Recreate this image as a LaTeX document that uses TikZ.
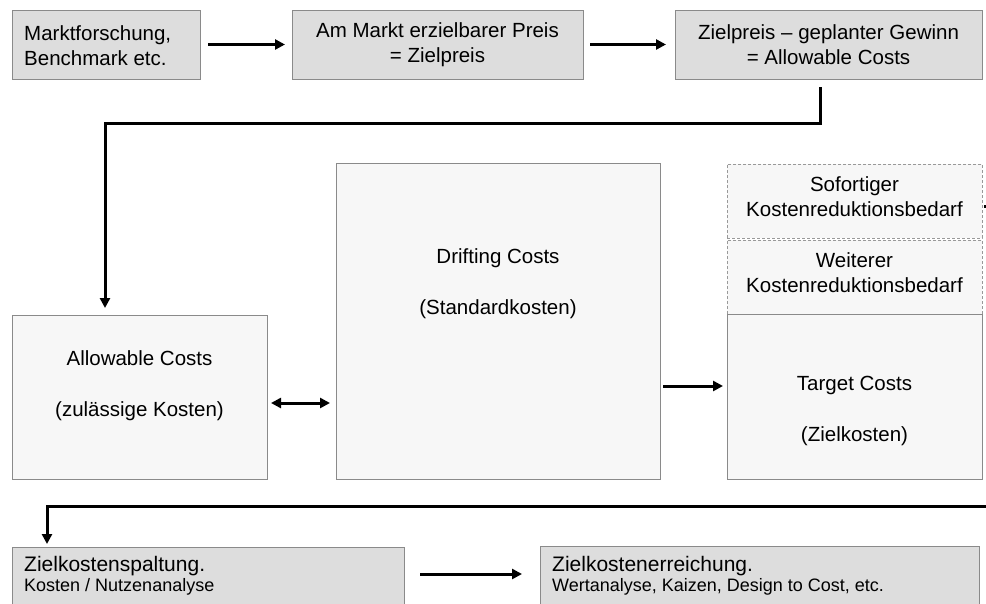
\documentclass[tikz,border=0pt]{standalone}
\usepackage{fontspec}
\setmainfont{Liberation Sans}
\usetikzlibrary{arrows.meta}
\definecolor{topfill}{HTML}{DDDDDD}
\definecolor{midfill}{HTML}{F7F7F7}
\definecolor{boxline}{HTML}{8A8A8A}
\definecolor{dashline}{HTML}{999999}
\begin{document}
\begin{tikzpicture}[x=1pt,y=-1pt,
  box/.style={draw=boxline, line width=1pt, fill=#1, inner sep=0pt, outer sep=0pt, anchor=north west},
  dashbox/.style={draw=dashline, line width=1pt, dash pattern=on 3pt off 2pt, fill=midfill, inner sep=0pt, outer sep=0pt, anchor=north west},
  txt/.style={inner sep=0pt, align=center, font=\fontsize{20.5}{25}\selectfont},
  bigtxt/.style={inner sep=0pt, align=center, font=\fontsize{20.5}{51}\selectfont},
  headtxt/.style={inner sep=0pt, anchor=base west, font=\fontsize{21}{24}\selectfont},
  subtxt/.style={inner sep=0pt, anchor=base west, font=\fontsize{18}{21}\selectfont},
  flow/.style={line width=3pt, -{Triangle[length=10pt,width=10pt]}},
  flowboth/.style={line width=3pt, {Triangle[length=10pt,width=10pt]}-{Triangle[length=10pt,width=10pt]}},
  plain/.style={line width=3pt}]
\useasboundingbox (0,0) rectangle (986,603);
\clip (0,0) rectangle (986,603);

% top row
\node[box=topfill, minimum width=188, minimum height=69] (b1) at (12,10) {};
\node[box=topfill, minimum width=291, minimum height=69] (b2) at (292,10) {};
\node[box=topfill, minimum width=307, minimum height=69] (b3) at (675,10) {};
\node[txt, align=left, anchor=west] (t1) at (24,45.5) {Marktforschung,\\Benchmark etc.};
\node[txt] (t2) at (437.5,45) {Am Markt erzielbarer Preis\\= Zielpreis};
\node[txt] (t3) at (828.5,45) {Zielpreis – geplanter Gewinn\\= Allowable Costs};

% middle row
\node[box=midfill, minimum width=255, minimum height=164] (allow) at (12,315) {};
\node[box=midfill, minimum width=324, minimum height=316] (drift) at (336,163) {};
\node[dashbox, minimum width=255, minimum height=74] (sof) at (727,164) {};
\node[dashbox, minimum width=255, minimum height=74] (wei) at (727,240) {};
\node[box=midfill, minimum width=255, minimum height=165] (target) at (727,314) {};
\node[bigtxt] (tallow) at (139.5,386) {Allowable Costs\\(zulässige Kosten)};
\node[bigtxt] (tdrift) at (498,284) {Drifting Costs\\(Standardkosten)};
\node[bigtxt] (ttarget) at (854.5,411) {Target Costs\\(Zielkosten)};
\node[txt] (tsof) at (854.5,197) {Sofortiger\\Kostenreduktionsbedarf};
\node[txt] (twei) at (854.5,273) {Weiterer\\Kostenreduktionsbedarf};

% bottom row
\node[box=topfill, minimum width=392, minimum height=80] (zs) at (12,547) {};
\node[box=topfill, minimum width=439, minimum height=80] (ze) at (540,546) {};
\node[headtxt] (tzs1) at (24,571.5) {Zielkostenspaltung.};
\node[subtxt] (tzs2) at (24,591) {Kosten / Nutzenanalyse};
\node[headtxt] (tze1) at (552,571.5) {Zielkostenerreichung.};
\node[subtxt] (tze2) at (552,591) {Wertanalyse, Kaizen, Design to Cost, etc.};

% routing points
\coordinate (k1) at (820,123);
\coordinate (k2) at (105,123);
\coordinate (m1) at (0,403);
\coordinate (m2) at (0,386);
\coordinate (s1) at (988,206);
\coordinate (r1) at (988,506);
\coordinate (r2) at (47,506);
\coordinate (m3) at (0,574);

% connectors
\draw[flow, shorten <=8pt, shorten >=7pt] (b1) -- (b2);
\draw[flow, shorten <=7pt, shorten >=9pt] (b2) -- (b3);
\draw[flow, shorten <=8pt, shorten >=7pt] (b3.south -| k1) -- (k1) -- (k2) -- (k2 |- allow.north);
\draw[flowboth, shorten <=4pt, shorten >=6pt] (allow.east |- m1) -- (drift.west |- m1);
\draw[flow, shorten <=3pt, shorten >=4pt] (drift.east |- m2) -- (target.west |- m2);
\draw[plain, shorten <=2pt] (sof.east |- s1) -- (s1);
\draw[flow, shorten >=3pt] (r1) -- (r2) -- (r2 |- zs.north);
\draw[flow, shorten <=16pt, shorten >=18pt] (zs.east |- m3) -- (ze.west |- m3);
\end{tikzpicture}
\end{document}
